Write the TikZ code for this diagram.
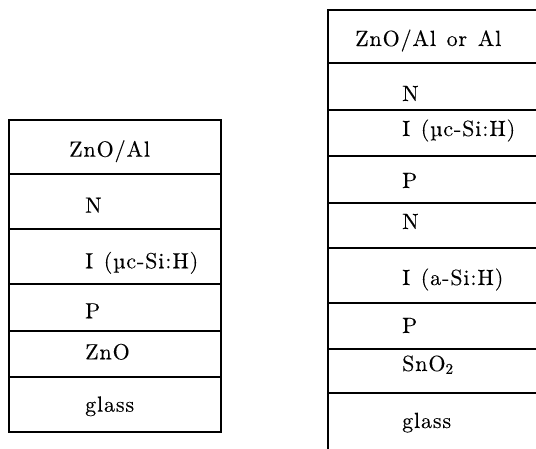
\documentclass[tikz,border=0pt]{standalone}
\usepackage{fontspec}
\newfontfamily\lblfont{lmroman10-regular.otf}[LetterSpace=4,WordSpace=1.3,FakeBold=0.15]
\begin{document}
\begin{tikzpicture}[x=1pt,y=-1pt,
  layer/.style={draw=black, line width=1.8pt, anchor=north west, inner sep=0pt, outer sep=0pt},
  lbl/.style={anchor=base west, inner sep=0pt, font=\lblfont\fontsize{22}{26}\selectfont}]
\useasboundingbox (0,0) rectangle (536,448);
\clip (0,0) rectangle (536,448);
% left stack
\node[layer, minimum width=212pt, minimum height=54pt] (a1) at (9,120) {};
\node[layer, minimum width=212pt, minimum height=55pt] (a2) at (9,174) {};
\node[layer, minimum width=212pt, minimum height=55pt] (a3) at (9,229) {};
\node[layer, minimum width=212pt, minimum height=47pt] (a4) at (9,284) {};
\node[layer, minimum width=212pt, minimum height=46pt] (a5) at (9,331) {};
\node[layer, minimum width=212pt, minimum height=55pt] (a6) at (9,377) {};
\node[lbl] (ta1) at (69,156.7) {ZnO/Al};
\node[lbl] (ta2) at (85,212.7) {N};
\node[lbl] (ta3) at (85,268.3) {I (µc-Si:H)};
\node[lbl] (ta4) at (85,318.3) {P};
\node[lbl] (ta5) at (85,359.3) {ZnO};
\node[lbl] (ta6) at (85,411.7) {glass};
% right stack
\node[layer, minimum width=220pt, minimum height=53pt] (b1) at (328,10) {};
\node[layer, minimum width=220pt, minimum height=47pt] (b2) at (328,63) {};
\node[layer, minimum width=220pt, minimum height=46pt] (b3) at (328,110) {};
\node[layer, minimum width=220pt, minimum height=47pt] (b4) at (328,156) {};
\node[layer, minimum width=220pt, minimum height=45pt] (b5) at (328,203) {};
\node[layer, minimum width=220pt, minimum height=55pt] (b6) at (328,248) {};
\node[layer, minimum width=220pt, minimum height=46pt] (b7) at (328,303) {};
\node[layer, minimum width=220pt, minimum height=44pt] (b8) at (328,349) {};
\node[layer, minimum width=220pt, minimum height=62pt] (b9) at (328,393) {};
\node[lbl] (tb1) at (355,46) {ZnO/Al or Al};
\node[lbl] (tb2) at (402,101) {N};
\node[lbl] (tb3) at (402,136) {I (µc-Si:H)};
\node[lbl] (tb4) at (402,188) {P};
\node[lbl] (tb5) at (402,229) {N};
\node[lbl] (tb6) at (402,285) {I (a-Si:H)};
\node[lbl] (tb7) at (402,333) {P};
\node[lbl] (tb8) at (402,371) {SnO\raisebox{-0.3ex}{\fontsize{15}{17}\selectfont 2}};
\node[lbl] (tb9) at (402,428) {glass};
\end{tikzpicture}
\end{document}
